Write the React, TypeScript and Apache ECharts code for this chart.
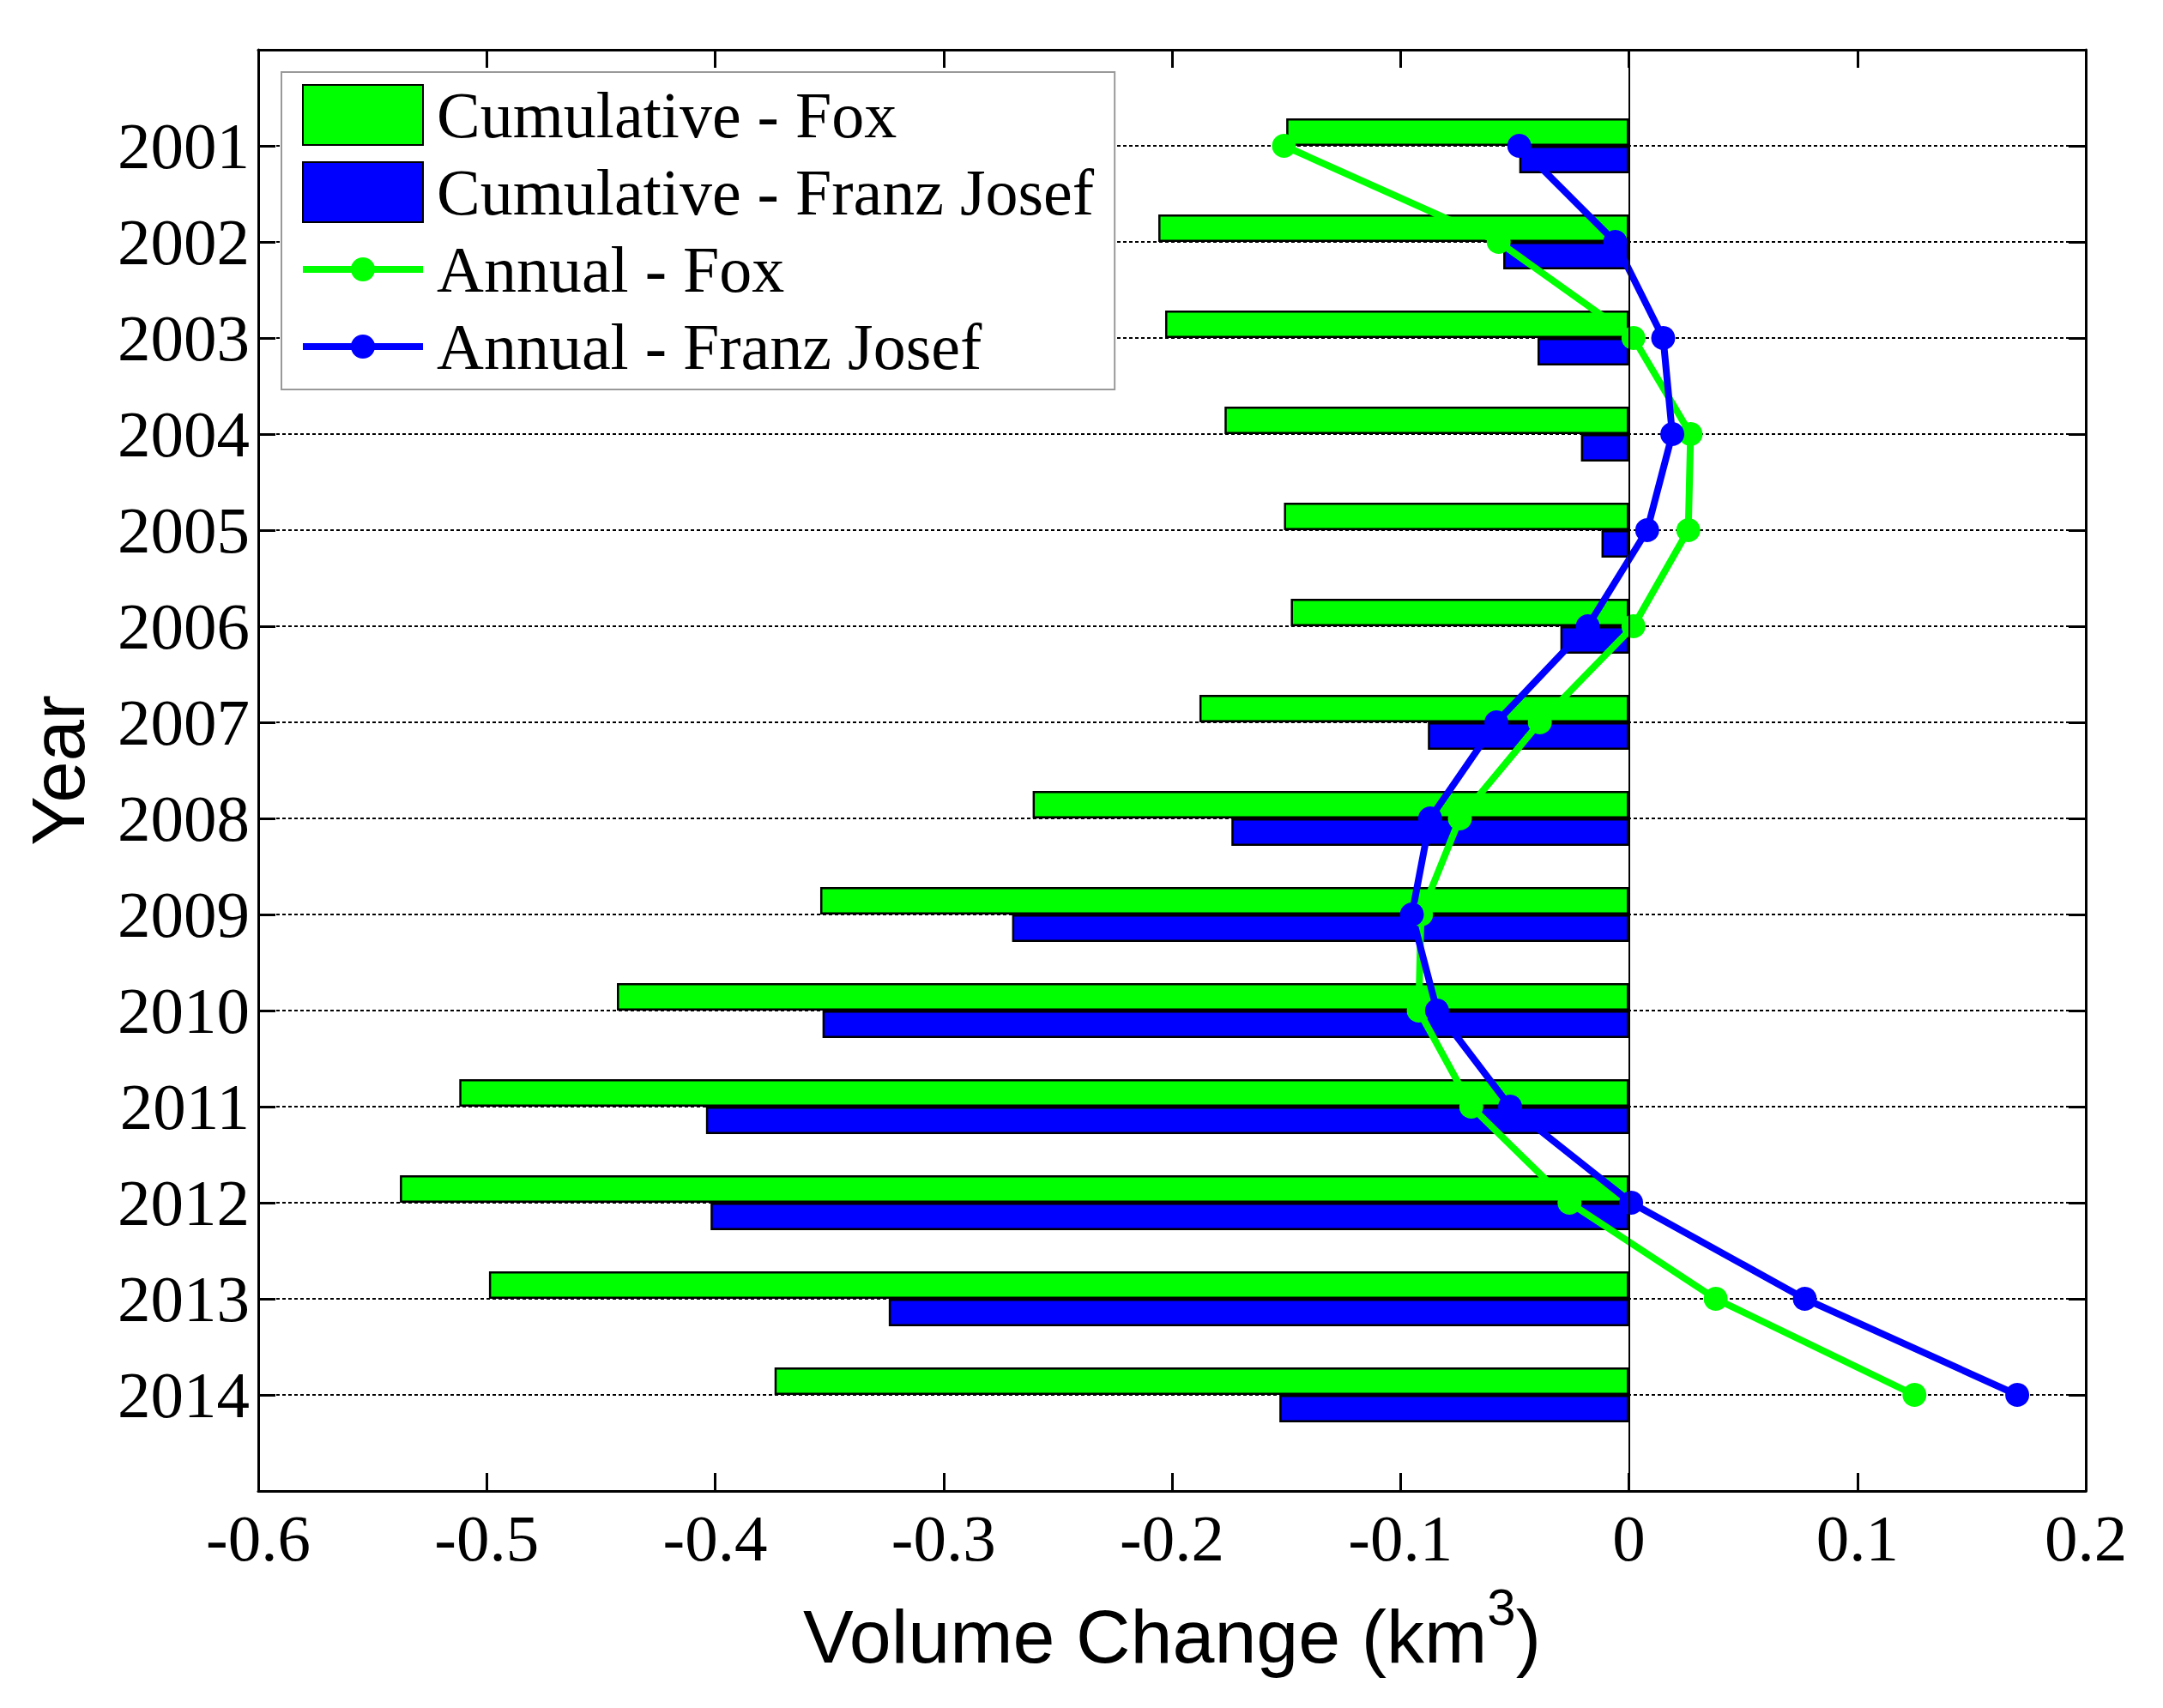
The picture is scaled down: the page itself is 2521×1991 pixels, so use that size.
import React, { useEffect, useRef } from 'react';
import * as echarts from 'echarts';

// year categories; 2000 and 2015 are only the empty edges of the axis
const AXIS_YEARS = ['2000', '2001', '2002', '2003', '2004', '2005', '2006', '2007', '2008', '2009', '2010', '2011', '2012', '2013', '2014', '2015'];
const YEARS = ['2001', '2002', '2003', '2004', '2005', '2006', '2007', '2008', '2009', '2010', '2011', '2012', '2013', '2014'];

// volume change, km^3
const CUM_FOX = [-0.150, -0.206, -0.203, -0.177, -0.151, -0.148, -0.188, -0.261, -0.354, -0.443, -0.512, -0.538, -0.499, -0.374];
const CUM_FRANZ = [-0.048, -0.055, -0.040, -0.021, -0.012, -0.030, -0.088, -0.174, -0.270, -0.353, -0.404, -0.402, -0.324, -0.153];
const ANNUAL_FOX = [-0.151, -0.057, 0.002, 0.027, 0.026, 0.002, -0.039, -0.074, -0.091, -0.092, -0.069, -0.026, 0.038, 0.125];
const ANNUAL_FRANZ = [-0.048, -0.006, 0.015, 0.019, 0.008, -0.018, -0.058, -0.087, -0.095, -0.084, -0.052, 0.001, 0.077, 0.170];

const X_MIN = -0.6;
const X_MAX = 0.2;
const X_STEP = 0.1;

const GREEN = '#00ff00';
const BLUE = '#0000ff';
const SERIF = 'Liberation Serif';
const SANS = 'Liberation Sans';

// legend glyph for the annual lines: thick stroke with a dot in the middle
const LINE_ICON = 'path://M0 9L140 9L140 17L0 17Z M56 13A14 14 0 1 1 84 13A14 14 0 1 1 56 13Z';

const pairs = (vals: number[]) => vals.map((v, i) => [v, YEARS[i]]);
const inner = (i: number) => i > 0 && i < AXIS_YEARS.length - 1;

const App: React.FC = () => {
  const chartRef = useRef<HTMLDivElement>(null);

  useEffect(() => {
    if (!chartRef.current) return;
    const chart = echarts.init(chartRef.current, null, { renderer: 'svg' });

    const axisLine = { show: true, onZero: false, lineStyle: { color: '#000', width: 3 } };

    const option: any = {
      animation: false,
      backgroundColor: '#fff',
      grid: { left: 301, right: 90, top: 58, bottom: 253, containLabel: false, outerBoundsMode: 'none' },
      legend: {
        left: 328,
        top: 84,
        orient: 'vertical',
        padding: [12, 24, 12, 24],
        itemWidth: 140,
        itemHeight: 70,
        itemGap: 14,
        symbolKeepAspect: true,
        backgroundColor: '#fff',
        borderColor: '#999',
        borderWidth: 2,
        textStyle: { fontFamily: SERIF, fontSize: 76, color: '#000', padding: [0, 0, 0, 11] },
        data: [
          { name: 'Cumulative - Fox', icon: 'rect' },
          { name: 'Cumulative - Franz Josef', icon: 'rect' },
          { name: 'Annual - Fox', icon: LINE_ICON },
          { name: 'Annual - Franz Josef', icon: LINE_ICON },
        ],
      },
      xAxis: [
        {
          type: 'value',
          position: 'bottom',
          min: X_MIN,
          max: X_MAX,
          interval: X_STEP,
          axisLine,
          axisTick: { show: true, inside: true, length: 21, lineStyle: { color: '#000', width: 3 } },
          axisLabel: {
            color: '#000',
            fontFamily: SERIF,
            fontSize: 77,
            margin: 16,
            formatter: (v: number) => (Math.abs(v) < 1e-9 ? '0' : String(+v.toFixed(1))),
          },
          splitLine: { show: false },
          name: '{n|Volume Change (km}{sup|3}{n|)}',
          nameLocation: 'middle',
          nameGap: 105,
          nameTextStyle: {
            rich: {
              n: { fontFamily: SANS, fontSize: 88, color: '#000', verticalAlign: 'bottom' },
              sup: { fontFamily: SANS, fontSize: 60, color: '#000', verticalAlign: 'bottom', padding: [0, 0, 48, 0] },
            },
          },
        },
        {
          type: 'value',
          position: 'top',
          min: X_MIN,
          max: X_MAX,
          interval: X_STEP,
          axisLine,
          axisTick: { show: true, inside: true, length: 21, lineStyle: { color: '#000', width: 3 } },
          axisLabel: { show: false },
          splitLine: { show: false },
        },
      ],
      yAxis: [
        {
          type: 'category',
          data: AXIS_YEARS,
          inverse: true,
          boundaryGap: false,
          position: 'left',
          axisLine,
          axisTick: { show: true, inside: true, length: 20, interval: inner, lineStyle: { color: '#000', width: 3 } },
          axisLabel: { color: '#000', fontFamily: SERIF, fontSize: 77, margin: 10, interval: inner },
          splitLine: { show: true, interval: inner, lineStyle: { color: '#000', width: 2, type: [4, 3] } },
          name: 'Year',
          nameLocation: 'middle',
          nameRotate: 90,
          nameGap: 190,
          nameTextStyle: { fontFamily: SANS, fontSize: 87, color: '#000' },
        },
        {
          type: 'category',
          data: AXIS_YEARS,
          inverse: true,
          boundaryGap: false,
          position: 'right',
          axisLine,
          axisTick: { show: true, inside: true, length: 20, interval: inner, lineStyle: { color: '#000', width: 3 } },
          axisLabel: { show: false },
          splitLine: { show: false },
        },
      ],
      series: [
        {
          name: 'Cumulative - Fox',
          type: 'bar',
          xAxisIndex: 0,
          yAxisIndex: 0,
          barWidth: 32,
          barGap: '0%',
          data: pairs(CUM_FOX),
          itemStyle: { color: GREEN, borderColor: '#000', borderWidth: 2.5 },
          markLine: {
            silent: true,
            symbol: ['none', 'none'],
            label: { show: false },
            lineStyle: { color: '#000', width: 2, type: 'solid' },
            data: [{ xAxis: 0 }],
          },
        },
        {
          name: 'Cumulative - Franz Josef',
          type: 'bar',
          xAxisIndex: 0,
          yAxisIndex: 0,
          barWidth: 32,
          barGap: '0%',
          data: pairs(CUM_FRANZ),
          itemStyle: { color: BLUE, borderColor: '#000', borderWidth: 2.5 },
        },
        {
          name: 'Annual - Fox',
          type: 'line',
          xAxisIndex: 0,
          yAxisIndex: 0,
          z: 3,
          data: pairs(ANNUAL_FOX),
          symbol: 'circle',
          symbolSize: 28,
          itemStyle: { color: GREEN },
          lineStyle: { color: GREEN, width: 8 },
        },
        {
          name: 'Annual - Franz Josef',
          type: 'line',
          xAxisIndex: 0,
          yAxisIndex: 0,
          z: 3,
          data: pairs(ANNUAL_FRANZ),
          symbol: 'circle',
          symbolSize: 28,
          itemStyle: { color: BLUE },
          lineStyle: { color: BLUE, width: 8 },
        },
      ],
    };

    chart.setOption(option);

    return () => {
      chart.dispose();
    };
  }, []);

  return (
    <div
      ref={chartRef}
      style={{ position: 'fixed', left: 0, top: 0, width: 2521, height: 1991, background: '#fff' }}
    />
  );
};

export default App;
